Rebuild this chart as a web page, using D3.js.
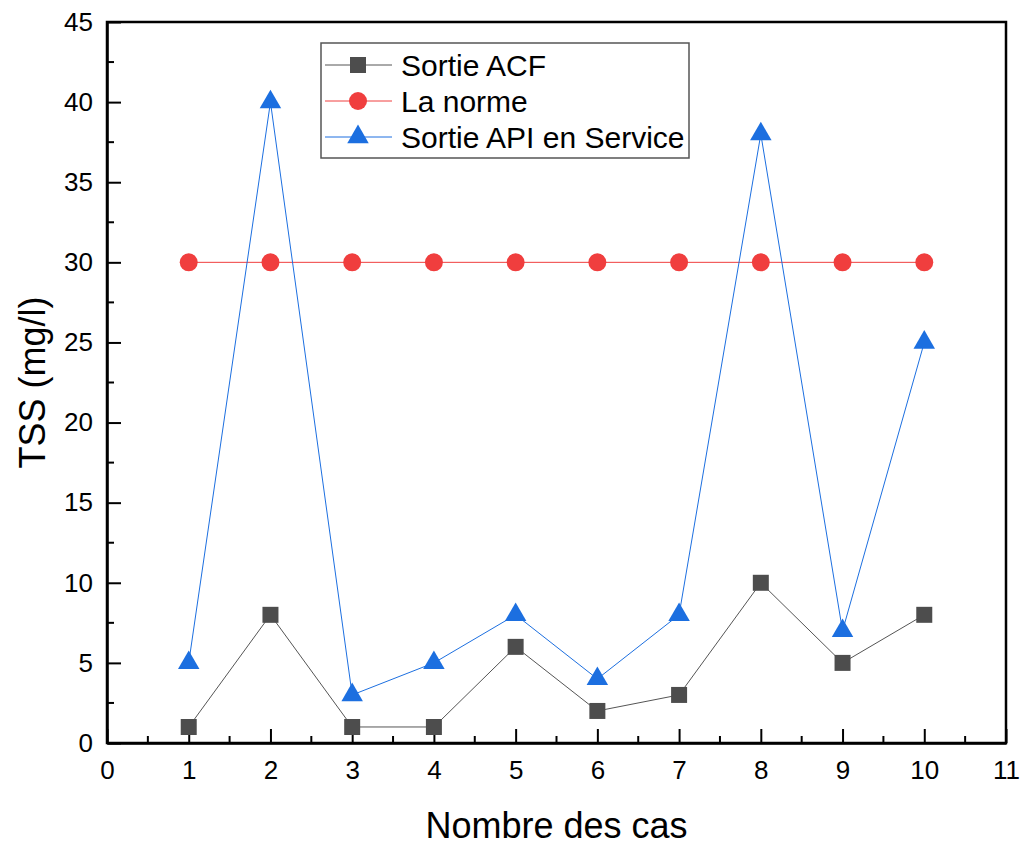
<!DOCTYPE html>
<html>
<head>
<meta charset="utf-8">
<script src="https://cdn.jsdelivr.net/npm/d3@7"></script>
<style>
  body { margin: 0; background: #fff; }
  text { font-family: "Liberation Sans", Arial, sans-serif; fill: #000; }
</style>
</head>
<body>
<div id="chart"></div>
<script>
// data
const cases = [1, 2, 3, 4, 5, 6, 7, 8, 9, 10];
const sortieACF = [1, 8, 1, 1, 6, 2, 3, 10, 5, 8];
const laNorme = [30, 30, 30, 30, 30, 30, 30, 30, 30, 30];
const sortieAPI = [5, 40, 3, 5, 8, 4, 8, 38, 7, 25];
const xTicks = [0, 1, 2, 3, 4, 5, 6, 7, 8, 9, 10, 11];
const yTicks = [0, 5, 10, 15, 20, 25, 30, 35, 40, 45];

const width = 1027, height = 846;
const margin = { top: 22, right: 21, bottom: 103, left: 107 };
const innerW = width - margin.left - margin.right,
      innerH = height - margin.top - margin.bottom;

const svg = d3.select('#chart').append('svg')
    .attr('width', width)
    .attr('height', height);

const chart = svg.append('g')
    .attr('transform', `translate(${margin.left}, ${margin.top})`);

const x = d3.scaleLinear([0, 11], [0, innerW]);
const y = d3.scaleLinear([0, 45], [innerH, 0]);

// frame (top and right)
chart.append('rect')
    .attr('width', innerW).attr('height', innerH)
    .style('fill', 'none').style('stroke', '#000').style('stroke-width', 2.5);

// minor ticks
const minorX = d3.range(0.5, 11, 1);
const minorY = d3.range(2.5, 45, 5);
chart.append('g').selectAll('line').data(minorX).join('line')
    .attr('x1', d => x(d)).attr('x2', d => x(d))
    .attr('y1', innerH).attr('y2', innerH - 7)
    .style('stroke', '#000').style('stroke-width', 2);
chart.append('g').selectAll('line').data(minorY).join('line')
    .attr('y1', d => y(d)).attr('y2', d => y(d))
    .attr('x1', 0).attr('x2', 7)
    .style('stroke', '#000').style('stroke-width', 2);

// axes (ticks inward)
const axisX = chart.append('g')
    .attr('transform', `translate(0, ${innerH})`)
    .call(d3.axisBottom(x).tickValues(xTicks).tickSizeInner(-14).tickSizeOuter(0).tickPadding(32).tickFormat(d3.format('d')));
const axisY = chart.append('g')
    .call(d3.axisLeft(y).tickValues(yTicks).tickSizeInner(-14).tickSizeOuter(0).tickPadding(28).tickFormat(d3.format('d')));

[axisX, axisY].forEach(a => {
    a.select('.domain').style('stroke', '#000').style('stroke-width', 2.5);
    a.selectAll('.tick line').style('stroke', '#000').style('stroke-width', 2);
    a.selectAll('.tick text').style('font-size', '26px').style('font-family', '"Liberation Sans", Arial, sans-serif');
});
axisY.selectAll('.tick text').attr('x', -14);
axisX.selectAll('.tick text').attr('y', 18);

// axis labels
svg.append('text')
    .attr('transform', `translate(${margin.left + innerW / 2}, 838)`)
    .style('text-anchor', 'middle')
    .style('font-size', '36px')
    .text('Nombre des cas');
svg.append('text')
    .attr('transform', `translate(45, ${margin.top + innerH / 2})rotate(-90)`)
    .style('text-anchor', 'middle')
    .style('font-size', '36px')
    .text('TSS (mg/l)');

// series
const series = [
    { name: 'Sortie ACF', values: sortieACF, color: '#4d4d4d', line: '#555', symbol: d3.symbolSquare, size: 256 },
    { name: 'La norme', values: laNorme, color: '#f03e3e', line: '#f03e3e', symbol: d3.symbolCircle, size: 254 },
    { name: 'Sortie API en Service', values: sortieAPI, color: '#1c6fe0', line: '#1c6fe0', symbol: d3.symbolTriangle, size: 200 }
];

const lineGen = d3.line().x(d => x(d[0])).y(d => y(d[1]));

series.forEach(s => {
    const pts = cases.map((c, i) => [c, s.values[i]]);
    chart.append('path')
        .datum(pts)
        .attr('d', lineGen)
        .style('fill', 'none')
        .style('stroke', s.line)
        .style('stroke-width', 1);
    chart.append('g').selectAll('path').data(pts).join('path')
        .attr('transform', d => `translate(${x(d[0])}, ${y(d[1])})`)
        .attr('d', d3.symbol(s.symbol, s.size))
        .style('fill', s.color);
});

// legend
const legend = svg.append('g')
    .classed('legend', true)
    .attr('transform', 'translate(321, 43)');
legend.append('rect')
    .attr('width', 368)
    .attr('height', 115)
    .style('fill', '#fff')
    .style('stroke', '#555')
    .style('stroke-width', 1.5);
const items = legend.selectAll('.legend-item').data(series).join('g')
    .classed('legend-item', true)
    .attr('transform', (_, i) => `translate(0, ${22 + i * 36})`);
items.append('line')
    .attr('x1', 4).attr('x2', 71)
    .style('stroke', d => d.line).style('stroke-width', 1);
items.append('path')
    .attr('transform', 'translate(37, 0)')
    .attr('d', d => d3.symbol(d.symbol, d.size)())
    .style('fill', d => d.color);
items.append('text')
    .attr('x', 80)
    .attr('dy', '0.35em')
    .style('font-size', '30px')
    .text(d => d.name);
</script>
</body>
</html>
